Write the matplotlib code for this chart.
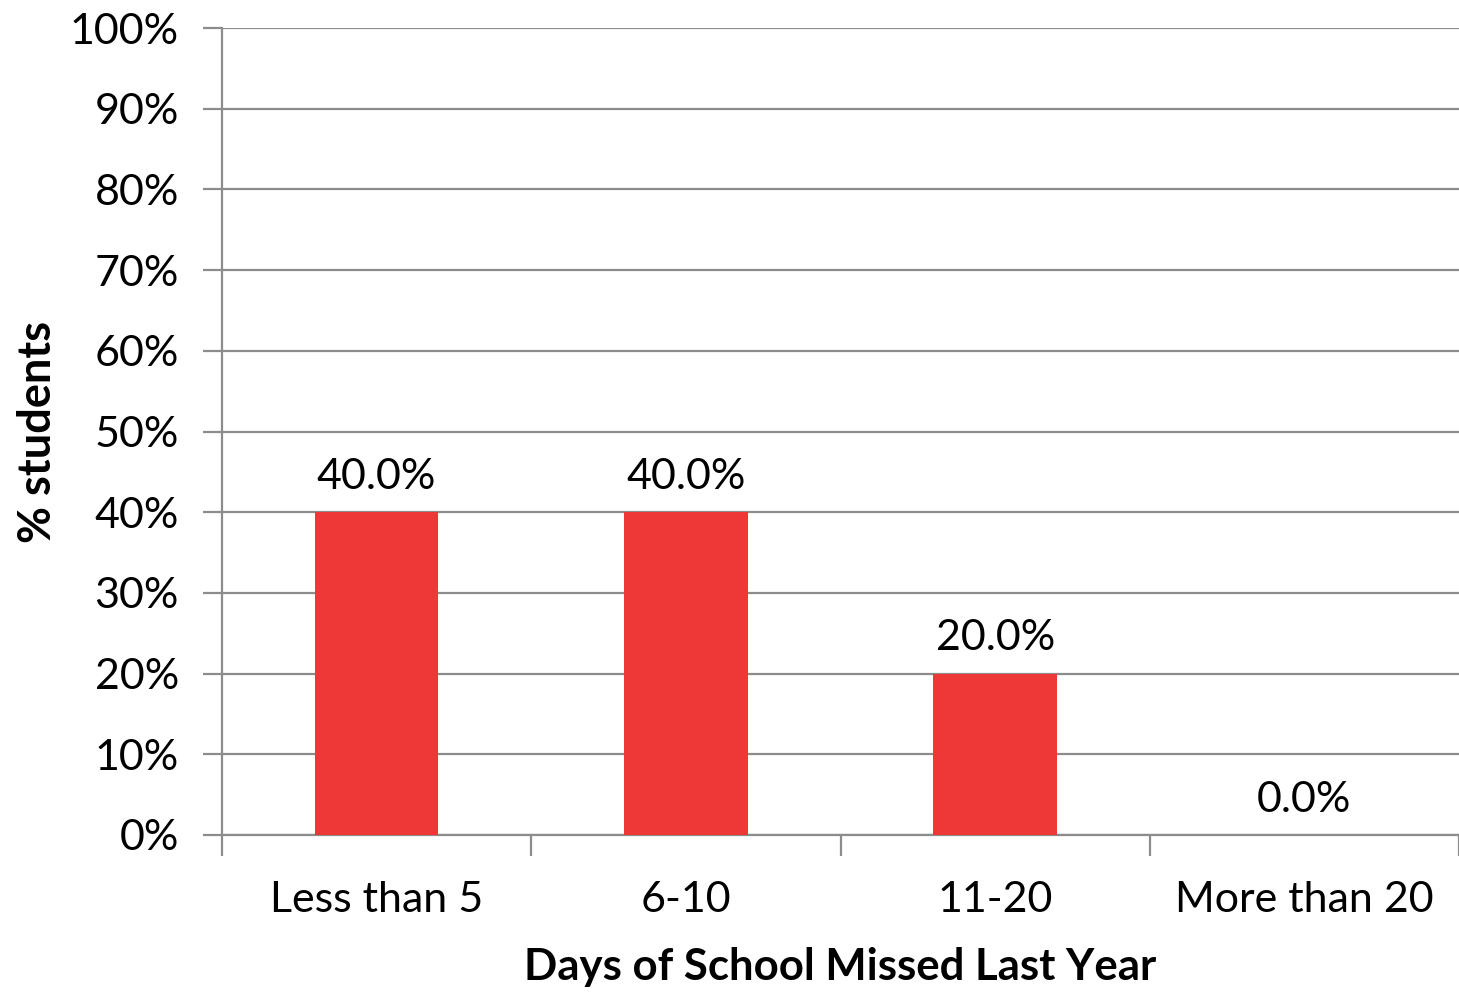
import matplotlib.pyplot as plt
from matplotlib.ticker import PercentFormatter

categories = ["Less than 5", "6-10", "11-20", "More than 20"]
share = [40.0, 40.0, 20.0, 0.0]
yticks = list(range(0, 101, 10))

plt.rcParams['font.family'] = ['Lato', 'DejaVu Sans']

fig = plt.figure(figsize=(14.59, 9.94), dpi=100)
ax = fig.add_axes([222 / 1459, 159 / 994, 1237 / 1459, 807 / 994])

grey = "#8c8c8c"
x = list(range(len(categories)))
bars = ax.bar(x, share, width=0.4, color="#ee3838", zorder=3)

for xi, v in zip(x, share):
    ax.text(xi, v + 2.0, f"{v:.1f}%", ha="center", va="bottom", fontsize=31)

ax.set_xlim(-0.5, len(categories) - 0.5)
ax.set_ylim(0, 100)
ax.set_yticks(yticks)
ax.yaxis.set_major_formatter(PercentFormatter(decimals=0))
ax.grid(axis="y", color=grey, linewidth=1.6, zorder=0)

# category boundaries carry the x ticks, labels sit in the middle
ax.set_xticks([i - 0.5 for i in range(len(categories) + 1)])
ax.set_xticklabels([])
ax.set_xticks(x, minor=True)
ax.set_xticklabels(categories, minor=True, fontsize=31)
ax.tick_params(axis="x", which="major", length=15, width=1.6, color=grey)
ax.tick_params(axis="x", which="minor", length=0, pad=33)
ax.tick_params(axis="y", length=14, width=1.6, color=grey, labelsize=31, pad=17)

for side in ["top", "right"]:
    ax.spines[side].set_visible(False)
for side in ["left", "bottom"]:
    ax.spines[side].set_color(grey)
    ax.spines[side].set_linewidth(1.6)

ax.set_xlabel("Days of School Missed Last Year", fontsize=31.5, fontweight="bold", labelpad=20)
ax.set_ylabel("% students", fontsize=32.5, fontweight="bold", labelpad=8)

fig.savefig("out.png", dpi=100)
